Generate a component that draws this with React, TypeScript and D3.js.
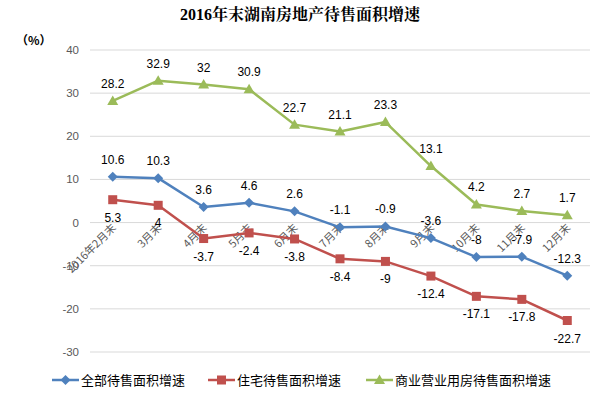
import React from "react";
import * as d3 from "d3";

const categories = ["2016年2月末", "3月末", "4月末", "5月末", "6月末", "7月末", "8月末", "9月末", "10月末", "11月末", "12月末"];
const allSeries = [10.6, 10.3, 3.6, 4.6, 2.6, -1.1, -0.9, -3.6, -8, -7.9, -12.3];
const residential = [5.3, 4, -3.7, -2.4, -3.8, -8.4, -9, -12.4, -17.1, -17.8, -22.7];
const commercial = [28.2, 32.9, 32, 30.9, 22.7, 21.1, 23.3, 13.1, 4.2, 2.7, 1.7];
const yTicks = [40, 30, 20, 10, 0, -10, -20, -30];
const seriesNames = ["全部待售面积增速", "住宅待售面积增速", "商业营业用房待售面积增速"];
const colors = ["#4F81BD", "#C0504D", "#9BBB59"];

const W = 605, H = 398;
const left = 90, right = 590, top = 50, bottom = 352;

export default function App() {
  const x = d3.scaleBand<string>().domain(categories).range([left, right]);
  const y = d3.scaleLinear().domain([-30, 40]).range([bottom, top]);
  const cx = (c: string) => (x(c) as number) + x.bandwidth() / 2;
  const line = d3.line<number>().x((_, i) => cx(categories[i])).y((d) => y(d));
  const data = [allSeries, residential, commercial];
  const font = "'Microsoft YaHei','Noto Sans CJK SC',sans-serif";
  const numFont = "'Liberation Sans',Arial,sans-serif";
  const marker = (k: number, px: number, py: number, key: string) => {
    if (k === 0) {
      const s = 5;
      return <path key={key} d={`M${px},${py - s}L${px + s},${py}L${px},${py + s}L${px - s},${py}Z`} fill={colors[0]} />;
    }
    if (k === 1) {
      return <rect key={key} x={px - 4.5} y={py - 4.5} width={9} height={9} fill={colors[1]} />;
    }
    return <path key={key} d={`M${px},${py - 5.5}L${px + 5.5},${py + 4}L${px - 5.5},${py + 4}Z`} fill={colors[2]} />;
  };
  const labelOffset = [-13, 22, -13];
  const legendX = [52, 208, 366];
  return (
    <svg width={W} height={H} style={{ position: "absolute", left: 0, top: 0 }} fontFamily={font}>
      <rect width={W} height={H} fill="#fff" />
      <text x={300} y={20} textAnchor="middle" fontSize={16} fontWeight="bold" fontFamily="'Liberation Serif','Noto Serif CJK SC','Noto Sans CJK SC',serif">2016年末湖南房地产待售面积增速</text>
      <text x={16} y={45} fontSize={12} fontWeight="bold">（%）</text>
      {yTicks.map((t) => (
        <g key={t}>
          <line x1={left} x2={right} y1={y(t)} y2={y(t)} stroke="#d9d9d9" strokeWidth={1} />
          <text x={left - 11} y={y(t) + 4} textAnchor="end" fontSize={11.5} fill="#595959" fontFamily={numFont}>{t}</text>
        </g>
      ))}
      {categories.map((c) => (
        <text key={c} transform={`translate(${cx(c) + 4},${y(0) + 6}) rotate(-45)`} textAnchor="end" fontSize={11} fill="#595959">{c}</text>
      ))}
      {data.map((vals, k) => (
        <g key={k}>
          <path d={line(vals) as string} fill="none" stroke={colors[k]} strokeWidth={2.5} strokeLinejoin="round" />
          {vals.map((v, i) => marker(k, cx(categories[i]), y(v), `${k}-${i}`))}
          {vals.map((v, i) => (
            <text key={`l${i}`} x={cx(categories[i])} y={y(v) + labelOffset[k]} textAnchor="middle" fontSize={12} fill="#000" fontFamily={numFont}>{v}</text>
          ))}
        </g>
      ))}
      {seriesNames.map((n, k) => (
        <g key={n}>
          <line x1={legendX[k]} x2={legendX[k] + 27} y1={380} y2={380} stroke={colors[k]} strokeWidth={2.5} />
          {marker(k, legendX[k] + 13.5, 380, `lg${k}`)}
          <text x={legendX[k] + 29} y={385} fontSize={13} fill="#000">{n}</text>
        </g>
      ))}
    </svg>
  );
}
